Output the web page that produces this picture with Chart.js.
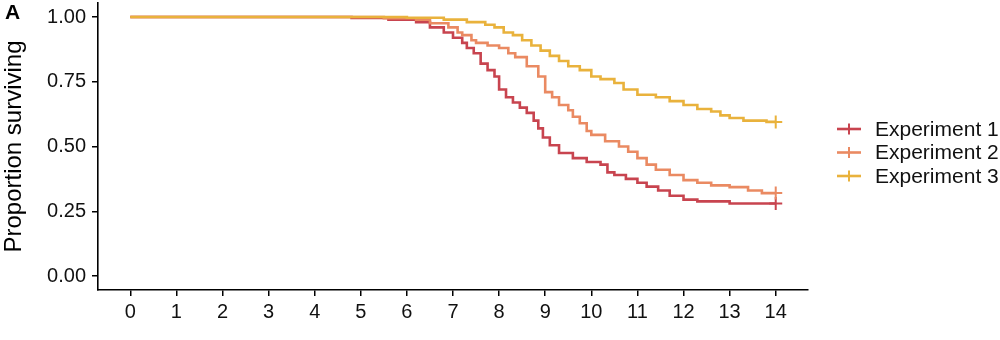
<!DOCTYPE html>
<html>
<head>
<meta charset="utf-8">
<script src="https://cdn.jsdelivr.net/npm/chart.js@4"></script>
<style>
  html, body { margin: 0; padding: 0; background: #fff; }
  #wrap { width: 1000px; height: 340px; }
</style>
</head>
<body>
<div id="wrap"><canvas id="survival" width="1000" height="340"></canvas></div>
<script>
// Kaplan-Meier steps (days, proportion surviving)
const exp1Days = [0, 4.8, 5.6, 6.2, 6.5, 6.8, 7.0, 7.2, 7.3, 7.45, 7.6, 7.75, 7.9, 8.0, 8.15, 8.3, 8.45, 8.6, 8.75, 8.85, 8.95, 9.1, 9.3, 9.6, 9.9, 10.2, 10.35, 10.5, 10.75, 11.0, 11.2, 11.45, 11.7, 12.0, 12.3, 13.0, 14];
const exp1Surv = [1, 0.996, 0.99, 0.98, 0.96, 0.94, 0.92, 0.90, 0.88, 0.86, 0.82, 0.795, 0.77, 0.72, 0.69, 0.67, 0.65, 0.63, 0.60, 0.57, 0.535, 0.505, 0.475, 0.455, 0.44, 0.43, 0.40, 0.39, 0.375, 0.36, 0.345, 0.33, 0.31, 0.295, 0.288, 0.28, 0.28];

const exp2Days = [0, 5.5, 6.2, 6.5, 6.9, 7.1, 7.2, 7.4, 7.5, 7.75, 8.0, 8.2, 8.35, 8.6, 8.85, 9.0, 9.15, 9.3, 9.5, 9.6, 9.75, 9.9, 10.0, 10.3, 10.6, 10.8, 11.0, 11.2, 11.4, 11.7, 12.0, 12.3, 12.6, 13.0, 13.4, 13.7, 14];
const exp2Surv = [1, 0.995, 0.99, 0.976, 0.96, 0.94, 0.93, 0.91, 0.90, 0.89, 0.88, 0.86, 0.845, 0.81, 0.77, 0.71, 0.69, 0.66, 0.64, 0.615, 0.59, 0.56, 0.545, 0.52, 0.50, 0.48, 0.455, 0.43, 0.41, 0.39, 0.37, 0.36, 0.35, 0.343, 0.33, 0.32, 0.32];

const exp3Days = [0, 6.0, 6.8, 7.3, 7.7, 7.9, 8.1, 8.3, 8.5, 8.7, 8.9, 9.1, 9.3, 9.5, 9.75, 10.0, 10.2, 10.5, 10.7, 11.0, 11.4, 11.7, 12.0, 12.3, 12.6, 12.8, 13.0, 13.3, 13.8, 14];
const exp3Surv = [1, 0.997, 0.99, 0.98, 0.97, 0.96, 0.94, 0.93, 0.91, 0.89, 0.87, 0.85, 0.83, 0.81, 0.795, 0.77, 0.76, 0.745, 0.72, 0.70, 0.69, 0.675, 0.66, 0.645, 0.635, 0.62, 0.61, 0.60, 0.595, 0.595];

const seriesNames = ['Experiment 1', 'Experiment 2', 'Experiment 3'];
const seriesColors = ['#c8444f', '#ea8a62', '#e9b23c'];
const xTicks = [0, 1, 2, 3, 4, 5, 6, 7, 8, 9, 10, 11, 12, 13, 14];
const yTicks = [0, 0.25, 0.5, 0.75, 1];

const FONT = "'Liberation Sans', Arial, Helvetica, sans-serif";

function toPoints(days, surv) {
  return days.map((d, i) => ({ x: d, y: surv[i] }));
}

const allDays = [exp1Days, exp2Days, exp3Days];
const allSurv = [exp1Surv, exp2Surv, exp3Surv];

const datasets = seriesNames.map((name, i) => ({
  label: name,
  data: toPoints(allDays[i], allSurv[i]),
  borderColor: seriesColors[i],
  backgroundColor: seriesColors[i],
  borderWidth: 2.6,
  stepped: 'before',
  fill: false,
  pointStyle: 'cross',
  pointBorderWidth: 2,
  // censor mark only at the end of follow-up
  pointRadius: (ctx) => ctx.dataIndex === allDays[i].length - 1 ? 6.5 : 0,
  pointHoverRadius: 0,
  order: 2 - i
}));

// legend + panel letter, drawn by hand so they sit where the figure has them
const extras = {
  id: 'extras',
  afterDraw(chart) {
    const ctx = chart.ctx;
    ctx.save();
    ctx.fillStyle = '#000';
    ctx.font = `bold 21px ${FONT}`;
    ctx.textBaseline = 'top';
    ctx.fillText('A', 5, 3);

    ctx.font = `21px ${FONT}`;
    ctx.textBaseline = 'middle';
    chart.data.datasets.forEach((ds, i) => {
      const y = 129 + i * 23.5;
      ctx.strokeStyle = ds.borderColor;
      ctx.lineWidth = 2.6;
      ctx.beginPath();
      ctx.moveTo(837, y);
      ctx.lineTo(861, y);
      ctx.stroke();
      ctx.lineWidth = 2;
      ctx.beginPath();
      ctx.moveTo(849, y - 5.5);
      ctx.lineTo(849, y + 5.5);
      ctx.stroke();
      ctx.fillStyle = '#111';
      ctx.fillText(ds.label, 875, y + 1);
    });
    ctx.restore();
  }
};

new Chart(document.getElementById('survival').getContext('2d'), {
  type: 'line',
  data: { datasets },
  options: {
    responsive: false,
    animation: false,
    devicePixelRatio: 1,
    layout: { autoPadding: false, padding: { left: 0, right: 192, top: 3, bottom: 0 } },
    plugins: {
      legend: { display: false },
      tooltip: { enabled: false }
    },
    scales: {
      x: {
        type: 'linear',
        min: -0.7,
        max: 14.7,
        afterBuildTicks: (scale) => { scale.ticks = xTicks.map((v) => ({ value: v })); },
        afterFit: (scale) => { scale.height = 50; scale.paddingLeft = 0; scale.paddingRight = 0; },
        ticks: {
          color: '#111',
          font: { family: FONT, size: 20 },
          padding: 4,
          maxRotation: 0,
          autoSkip: false
        },
        grid: { drawOnChartArea: false, drawTicks: true, tickLength: 6, color: '#000', lineWidth: 1.5 },
        border: { display: true, color: '#000', width: 1.6 }
      },
      y: {
        min: -0.054,
        max: 1.054,
        afterBuildTicks: (scale) => { scale.ticks = yTicks.map((v) => ({ value: v })); },
        afterFit: (scale) => { scale.width = 98; scale.paddingTop = 0; scale.paddingBottom = 0; },
        ticks: {
          color: '#111',
          font: { family: FONT, size: 20 },
          padding: 6,
          callback: (v) => Number(v).toFixed(2)
        },
        title: {
          display: true,
          text: 'Proportion surviving',
          color: '#000',
          font: { family: FONT, size: 24 },
          padding: { top: 0, bottom: 0 }
        },
        grid: { drawOnChartArea: false, drawTicks: true, tickLength: 6, color: '#000', lineWidth: 1.5 },
        border: { display: true, color: '#000', width: 1.6 }
      }
    }
  },
  plugins: [extras]
});
</script>
</body>
</html>
